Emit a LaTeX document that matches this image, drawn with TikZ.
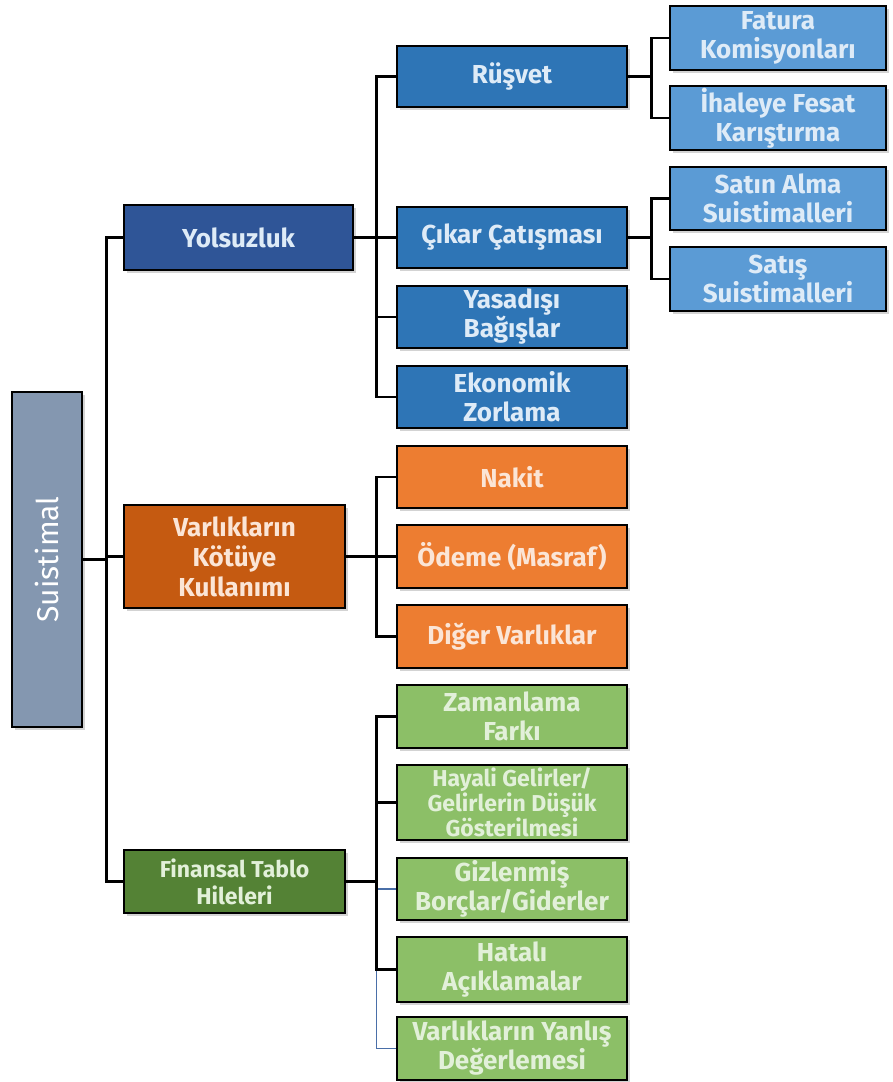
\documentclass[tikz,border=0pt]{standalone}
\usepackage{fontspec}
\setmainfont{Fira Sans}
\usepackage{tikz}
\usetikzlibrary{shadows}
\definecolor{susgray}{HTML}{8497B0}
\definecolor{darkblue}{HTML}{2F5597}
\definecolor{midblue}{HTML}{2E75B6}
\definecolor{lightblue}{HTML}{5B9BD5}
\definecolor{darkorange}{HTML}{C55A11}
\definecolor{midorange}{HTML}{ED7D31}
\definecolor{darkgreen}{HTML}{548235}
\definecolor{midgreen}{HTML}{8CBF67}
\definecolor{bluetext}{HTML}{DEEBF7}
\definecolor{orangetext}{HTML}{FBE5D6}
\definecolor{greentext}{HTML}{E2F0D9}
\definecolor{linkblue}{HTML}{4A6FA8}

\begin{document}
\begin{tikzpicture}[x=1pt,y=-1pt]
\tikzstyle{box} = [draw=black, line width=2.6pt, rectangle, align=center, inner sep=0pt,
  font=\fontsize{26}{29}\selectfont\bfseries,
  drop shadow={opacity=0.35, shadow xshift=3pt, shadow yshift=-3pt}]
\tikzstyle{lvl2} = [box, minimum width=230pt]
\tikzstyle{lvl3} = [box, minimum width=216pt]
\tikzstyle{link} = [line width=2.6pt, black]
\useasboundingbox (0,0) rectangle (892,1082);

% root
\node[box, fill=susgray, text=white, minimum width=70pt, minimum height=335pt,
  font=\fontsize{30}{34}\selectfont] (sus) at (47,559.5) {\rotatebox{90}{Suistimal}};

% first level
\node[box, fill=darkblue, text=bluetext, minimum width=229pt, minimum height=65pt] (yol) at (238.5,237.5) {Yolsuzluk};
\node[box, fill=darkorange, text=orangetext, minimum width=221pt, minimum height=103pt,
  font=\fontsize{26}{30}\selectfont\bfseries] (var) at (234.5,556.5) {Varlıkların\\Kötüye\\Kullanımı};
\node[box, fill=darkgreen, text=greentext, minimum width=221pt, minimum height=63pt,
  font=\fontsize{23}{27}\selectfont\bfseries] (fin) at (234.5,881.5) {Finansal Tablo\\Hileleri};

% yolsuzluk
\node[lvl2, fill=midblue, text=bluetext, minimum height=61pt] (rus) at (512,76.5) {Rüşvet};
\node[lvl2, fill=midblue, text=bluetext, minimum height=61pt] (cik) at (512,237.5) {Çıkar Çatışması};
\node[lvl2, fill=midblue, text=bluetext, minimum height=62pt] (yas) at (512,317) {Yasadışı\\Bağışlar};
\node[lvl2, fill=midblue, text=bluetext, minimum height=62pt] (eko) at (512,397) {Ekonomik\\Zorlama};

% rusvet / cikar
\node[lvl3, fill=lightblue, text=bluetext, minimum height=64pt] (fat) at (778,38) {Fatura\\Komisyonları};
\node[lvl3, fill=lightblue, text=bluetext, minimum height=64pt] (iha) at (778,118) {İhaleye Fesat\\Karıştırma};
\node[lvl3, fill=lightblue, text=bluetext, minimum height=63pt] (sat) at (778,198.5) {Satın Alma\\Suistimalleri};
\node[lvl3, fill=lightblue, text=bluetext, minimum height=64pt] (sts) at (778,279) {Satış\\Suistimalleri};

% varliklar
\node[lvl2, fill=midorange, text=orangetext, minimum height=62pt] (nak) at (512,477) {Nakit};
\node[lvl2, fill=midorange, text=orangetext, minimum height=63pt] (ode) at (512,556.5) {Ödeme (Masraf)};
\node[lvl2, fill=midorange, text=orangetext, minimum height=63pt] (dig) at (512,636.5) {Diğer Varlıklar};

% finansal tablo
\node[lvl2, fill=midgreen, text=greentext, minimum height=63pt] (zam) at (512,716.5) {Zamanlama\\Farkı};
\node[lvl2, fill=midgreen, text=greentext, minimum height=75pt,
  font=\fontsize{23}{25}\selectfont\bfseries] (hay) at (512,802.5) {Hayali Gelirler/\\Gelirlerin Düşük\\Gösterilmesi};
\node[lvl2, fill=midgreen, text=greentext, minimum height=62pt] (giz) at (512,889) {Gizlenmiş\\Borçlar/Giderler};
\node[lvl2, fill=midgreen, text=greentext, minimum height=65pt] (hat) at (512,969.5) {Hatalı\\Açıklamalar};
\node[lvl2, fill=midgreen, text=greentext, minimum height=63pt] (yan) at (512,1048.5) {Varlıkların Yanlış\\Değerlemesi};

% connectors
\foreach \c in {yol,var,fin}
  \draw[link] (sus.east) -- ++(23,0) |- (\c.west);
\foreach \c in {rus,cik,yas,eko}
  \draw[link] (yol.east) -- ++(22,0) |- (\c.west);
\foreach \c in {fat,iha}
  \draw[link] (rus.east) -- ++(23,0) |- (\c.west);
\foreach \c in {sat,sts}
  \draw[link] (cik.east) -- ++(23,0) |- (\c.west);
\foreach \c in {nak,ode,dig}
  \draw[link] (var.east) -- ++(30,0) |- (\c.west);
\foreach \c in {giz,yan}
  \draw[line width=1.6pt, linkblue] (fin.east) -- ++(30,0) |- (\c.west);
\foreach \c in {zam,hay,hat}
  \draw[link] (fin.east) -- ++(30,0) |- (\c.west);
\end{tikzpicture}
\end{document}
